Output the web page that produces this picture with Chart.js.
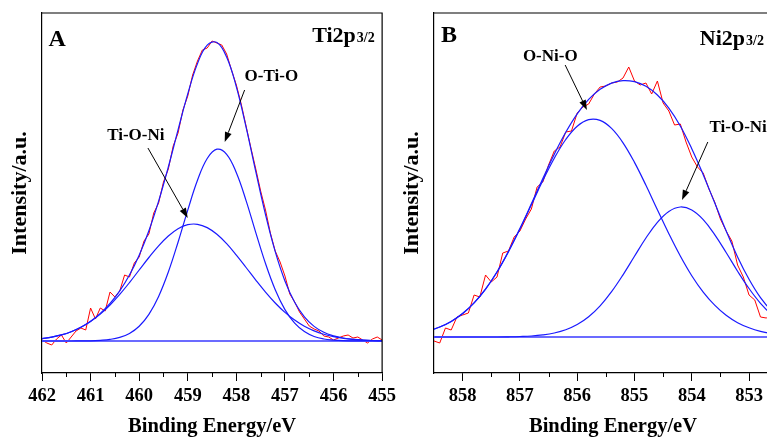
<!DOCTYPE html>
<html>
<head>
<meta charset="utf-8">
<title>XPS Ti2p / Ni2p</title>
<script src="https://cdn.jsdelivr.net/npm/chart.js@4.4.1/dist/chart.umd.min.js"></script>
<style>
    html, body { margin: 0; padding: 0; background: #fff; overflow: hidden; }
    #wrap { position: relative; width: 767px; height: 439px; overflow: hidden; }
    #panelA { position: absolute; left: 0; top: 0; }
    #panelB { position: absolute; left: 392px; top: 0; }
</style>
</head>
<body>
<div id="wrap">
    <canvas id="panelA" width="400" height="439"></canvas>
    <canvas id="panelB" width="417" height="439"></canvas>
</div>
<script>
'use strict';

// ---------- Panel A : Ti2p3/2 ----------
var energyA = [462.0, 461.9, 461.8, 461.7, 461.6, 461.5, 461.4, 461.3, 461.2, 461.1,
               461.0, 460.9, 460.8, 460.7, 460.6, 460.5, 460.4, 460.3, 460.2, 460.1,
               460.0, 459.9, 459.8, 459.7, 459.6, 459.5, 459.4, 459.3, 459.2, 459.1,
               459.0, 458.9, 458.8, 458.7, 458.6, 458.5, 458.4, 458.3, 458.2, 458.1,
               458.0, 457.9, 457.8, 457.7, 457.6, 457.5, 457.4, 457.3, 457.2, 457.1,
               457.0, 456.9, 456.8, 456.7, 456.6, 456.5, 456.4, 456.3, 456.2, 456.1,
               456.0, 455.9, 455.8, 455.7, 455.6, 455.5, 455.4, 455.3, 455.2, 455.1,
               455.0];
var rawA = [1, -2, -4, 2, 6, -2, 4, 10, 13, 11,
            33, 22, 33, 30, 49, 44, 50, 66, 64, 78,
            84, 100, 107, 128, 138, 159, 172, 195, 208, 231,
            245, 266, 280, 291, 293, 300, 298, 296, 287, 271,
            256, 237, 215, 193, 172, 150, 131, 108, 90, 79,
            65, 47, 39, 29, 22, 15, 12, 10, 5, 4,
            1, 3, 5, 6, 3, 4, 1, -2, 2, 4,
            1];

var fitEnergyA = [462.0, 461.8, 461.6, 461.4, 461.2, 461.0, 460.8, 460.6, 460.4, 460.2,
                  460.0, 459.8, 459.6, 459.4, 459.2, 459.0, 458.8, 458.6, 458.4, 458.2,
                  458.0, 457.8, 457.6, 457.4, 457.2, 457.0, 456.8, 456.6, 456.4, 456.2,
                  456.0, 455.8, 455.6, 455.4, 455.2, 455.0];
var envelopeA = [2.4, 3.9, 6.1, 9.3, 13.8, 19.7, 27.6, 37.6, 50.2, 66.0,
                 85.8, 110.2, 139.8, 174.0, 211.1, 247.2, 277.4, 295.9, 298.5, 284.0,
                 254.1, 213.9, 169.3, 126.4, 89.3, 60.0, 38.7, 24.1, 14.6, 8.7,
                 5.2, 3.0, 1.7, 1.0, 0.5, 0.3];
var oTiOA = [0, 0, 0, 0, 0.1, 0.2, 0.7, 1.6, 3.6, 7.6,
             14.8, 26.7, 44.6, 69.0, 98.8, 130.9, 160.7, 182.5, 191.8, 186.7,
             168.2, 140.4, 108.4, 77.5, 51.3, 31.4, 17.8, 9.4, 4.5, 2.0,
             0.9, 0.3, 0.1, 0, 0, 0];
var tiONiA = [2.4, 3.9, 6.1, 9.3, 13.7, 19.5, 26.9, 36.0, 46.6, 58.4,
              71.0, 83.5, 95.2, 105.0, 112.3, 116.3, 116.7, 113.4, 106.7, 97.3,
              85.9, 73.5, 60.9, 48.9, 38.0, 28.6, 20.9, 14.7, 10.1, 6.7,
              4.3, 2.7, 1.6, 0.9, 0.5, 0.3];
var baseEnergyA = [462, 455];
var baselineA = [0, 0];
var majorTicksA = [462, 461, 460, 459, 458, 457, 456, 455];
var minorTicksA = [461.5, 460.5, 459.5, 458.5, 457.5, 456.5, 455.5];

// ---------- Panel B : Ni2p3/2 ----------
var energyB = [858.6, 858.5, 858.4, 858.3, 858.2, 858.1, 858.0, 857.9, 857.8, 857.7,
               857.6, 857.5, 857.4, 857.3, 857.2, 857.1, 857.0, 856.9, 856.8, 856.7,
               856.6, 856.5, 856.4, 856.3, 856.2, 856.1, 856.0, 855.9, 855.8, 855.7,
               855.6, 855.5, 855.4, 855.3, 855.2, 855.1, 855.0, 854.9, 854.8, 854.7,
               854.6, 854.5, 854.4, 854.3, 854.2, 854.1, 854.0, 853.9, 853.8, 853.7,
               853.6, 853.5, 853.4, 853.3, 853.2, 853.1, 853.0, 852.9, 852.8, 852.7,
               852.6];
var rawB = [2, -4, -6, 9, 7, 20, 22, 24, 42, 40,
            62, 55, 60, 84, 86, 100, 106, 118, 128, 150,
            155, 172, 186, 190, 205, 206, 224, 230, 233, 243,
            250, 251, 254, 255, 259, 270, 256, 252, 254, 243,
            256, 234, 226, 212, 213, 195, 180, 170, 164, 148,
            135, 118, 106, 96, 72, 60, 42, 37, 20, 19,
            22];

var fitEnergyB = [858.6, 858.4, 858.2, 858.0, 857.8, 857.6, 857.4, 857.2, 857.0, 856.8,
                  856.6, 856.4, 856.2, 856.0, 855.8, 855.6, 855.4, 855.2, 855.0, 854.8,
                  854.6, 854.4, 854.2, 854.0, 853.8, 853.6, 853.4, 853.2, 853.0, 852.8,
                  852.6, 852.4, 852.2];
var envelopeB = [6.2, 10.0, 15.6, 23.5, 34.1, 47.9, 65.0, 85.5, 108.5, 133.2,
                 158.5, 182.8, 204.7, 223.2, 237.6, 247.7, 253.9, 256.4, 255.3, 250.7,
                 242.0, 228.9, 211.0, 188.3, 162.3, 134.2, 106.2, 80.1, 57.7, 39.3,
                 25.6, 15.7, 9.2];
var oNiOB = [6.2, 10.0, 15.6, 23.5, 34.1, 47.9, 65.0, 85.3, 108.0, 132.2,
             156.4, 178.8, 197.5, 210.8, 217.4, 216.6, 208.6, 194.2, 174.6, 151.7,
             127.3, 103.3, 81.0, 61.3, 44.9, 31.8, 21.7, 14.3, 9.2, 5.6,
             3.4, 1.9, 1.1];
var tiONiB = [0, 0, 0, 0, 0, 0, 0, 0.2, 0.5, 1.0,
              2.1, 4.0, 7.2, 12.4, 20.2, 31.1, 45.3, 62.2, 80.7, 99.0,
              114.7, 125.6, 130.0, 127.0, 117.4, 102.4, 84.5, 65.8, 48.5, 33.7,
              22.2, 13.8, 8.1];
var baseEnergyB = [858.6, 852.2];
var baselineB = [0, 0];
var majorTicksB = [858, 857, 856, 855, 854, 853];
var minorTicksB = [857.5, 856.5, 855.5, 854.5, 853.5, 852.5];

var SERIF = "'Liberation Serif', 'Times New Roman', serif";
var RED = '#ff0000';
var FIT_BLUE = '#1a1aff';
var BASE_BLUE = '#6b6bff';

/**
 * Zip two arrays into {x, y} points.
 */
function points(xs, ys) {
    return xs.map(function (x, i) {
        return { x: x, y: ys[i] };
    });
}

function series(xs, ys, color, width, tension) {
    return {
        data: points(xs, ys),
        borderColor: color,
        borderWidth: width,
        pointRadius: 0,
        tension: tension,
        fill: false
    };
}

/**
 * Draw a thin line with a filled arrow head at (x2, y2).
 */
function drawArrow(ctx, x1, y1, x2, y2) {
    var ang = Math.atan2(y2 - y1, x2 - x1);
    var len = 10, half = 3.5;
    var bx = x2 - len * Math.cos(ang), by = y2 - len * Math.sin(ang);
    ctx.beginPath();
    ctx.moveTo(x1, y1);
    ctx.lineTo(bx, by);
    ctx.stroke();
    ctx.beginPath();
    ctx.moveTo(x2, y2);
    ctx.lineTo(bx + half * Math.sin(ang), by - half * Math.cos(ang));
    ctx.lineTo(bx - half * Math.sin(ang), by + half * Math.cos(ang));
    ctx.closePath();
    ctx.fill();
}

// Frame, minor ticks, peak labels, arrows and panel captions.
var panelDecor = {
    id: 'panelDecor',
    afterDraw: function (chart, args, opts) {
        var ctx = chart.ctx;
        var area = chart.chartArea;
        var xs = chart.scales.x, ys = chart.scales.y;
        var px = function (v) { return xs.getPixelForValue(v); };
        var py = function (v) { return ys.getPixelForValue(v); };

        ctx.save();
        ctx.strokeStyle = '#000';
        ctx.fillStyle = '#000';
        ctx.lineWidth = 1.2;
        ctx.beginPath();
        ctx.moveTo(area.left, area.top);
        ctx.lineTo(area.right, area.top);
        ctx.lineTo(area.right, area.bottom);
        ctx.stroke();

        ctx.lineWidth = 1;
        ctx.beginPath();
        opts.minorTicks.forEach(function (v) {
            var x = Math.round(px(v)) + 0.5;
            ctx.moveTo(x, area.bottom);
            ctx.lineTo(x, area.bottom + 4);
        });
        ctx.stroke();

        opts.arrows.forEach(function (a) {
            drawArrow(ctx, px(a.from[0]), py(a.from[1]), px(a.to[0]), py(a.to[1]));
        });

        ctx.textAlign = 'center';
        ctx.textBaseline = 'middle';
        opts.labels.forEach(function (l) {
            ctx.font = 'bold ' + l.size + 'px ' + SERIF;
            ctx.fillText(l.text, px(l.at[0]), py(l.at[1]));
        });

        // caption like "Ti2p" followed by a smaller "3/2"
        var c = opts.caption;
        var cx = px(c.at[0]), cy = py(c.at[1]);
        ctx.textAlign = 'left';
        ctx.textBaseline = 'alphabetic';
        ctx.font = 'bold 22px ' + SERIF;
        ctx.fillText(c.main, cx, cy);
        var w = ctx.measureText(c.main).width;
        ctx.font = 'bold 14px ' + SERIF;
        ctx.fillText(c.sub, cx + w + 1, cy);
        ctx.restore();
    }
};

function buildPanel(canvasId, p) {
    var ctx = document.getElementById(canvasId).getContext('2d');
    return new Chart(ctx, {
        type: 'line',
        data: {
            datasets: [
                series(p.fitEnergy, p.envelope, FIT_BLUE, 1.2, 0.4),
                series(p.fitEnergy, p.peak1, FIT_BLUE, 1.2, 0.4),
                series(p.fitEnergy, p.peak2, FIT_BLUE, 1.2, 0.4),
                series(p.baseEnergy, p.baseline, BASE_BLUE, 2, 0),
                series(p.energy, p.raw, RED, 1, 0)
            ]
        },
        options: {
            responsive: false,
            animation: false,
            devicePixelRatio: 1,
            layout: { padding: { left: 0, top: 13, right: p.padRight, bottom: 0 } },
            plugins: {
                legend: { display: false },
                tooltip: { enabled: false },
                panelDecor: p.decor
            },
            scales: {
                x: {
                    type: 'linear',
                    reverse: true,
                    min: p.xMin,
                    max: p.xMax,
                    afterBuildTicks: function (scale) {
                        scale.ticks = p.majorTicks.map(function (v) { return { value: v }; });
                    },
                    afterFit: function (scale) { scale.height = 66; },
                    ticks: {
                        color: '#000',
                        padding: 4,
                        maxRotation: 0,
                        autoSkip: false,
                        font: { family: SERIF, size: 18.5, weight: 'bold' }
                    },
                    grid: { drawOnChartArea: false, tickLength: 8, color: '#000', lineWidth: 1 },
                    border: { color: '#000', width: 1.2 },
                    title: {
                        display: true,
                        text: 'Binding Energy/eV',
                        color: '#000',
                        padding: { top: 0, bottom: 0 },
                        font: { family: SERIF, size: 20.5, weight: 'bold' }
                    }
                },
                y: {
                    min: p.yMin,
                    max: p.yMax,
                    afterFit: function (scale) { scale.width = 42; },
                    ticks: { display: false },
                    grid: { display: false },
                    border: { color: '#000', width: 1.2 },
                    title: {
                        display: true,
                        text: 'Intensity/a.u.',
                        color: '#000',
                        padding: { top: 7, bottom: 0 },
                        font: { family: SERIF, size: 22, weight: 'bold' }
                    }
                }
            }
        },
        plugins: [panelDecor]
    });
}

buildPanel('panelA', {
    energy: energyA, raw: rawA,
    fitEnergy: fitEnergyA, envelope: envelopeA, peak1: oTiOA, peak2: tiONiA,
    baseEnergy: baseEnergyA, baseline: baselineA,
    majorTicks: majorTicksA,
    xMin: 455, xMax: 462, yMin: -32, yMax: 328,
    padRight: 17,
    decor: {
        minorTicks: minorTicksA,
        labels: [
            { text: 'A', at: [461.69, 301], size: 24 },
            { text: 'O-Ti-O', at: [457.28, 264], size: 17 },
            { text: 'Ti-O-Ni', at: [460.07, 205], size: 17 }
        ],
        arrows: [
            { from: [457.83, 251], to: [458.24, 199] },
            { from: [459.82, 193], to: [459.00, 123] }
        ],
        caption: { main: 'Ti2p', sub: '3/2', at: [456.44, 299] }
    }
});

buildPanel('panelB', {
    energy: energyB, raw: rawB,
    fitEnergy: fitEnergyB, envelope: envelopeB, peak1: oNiOB, peak2: tiONiB,
    baseEnergy: baseEnergyB, baseline: baselineB,
    majorTicks: majorTicksB,
    xMin: 852.25, xMax: 858.5, yMin: -36, yMax: 324,
    padRight: 17,
    decor: {
        minorTicks: minorTicksB,
        labels: [
            { text: 'B', at: [858.24, 301], size: 24 },
            { text: 'O-Ni-O', at: [856.47, 280], size: 17 },
            { text: 'Ti-O-Ni', at: [853.19, 209], size: 17 }
        ],
        arrows: [
            { from: [856.21, 272], to: [855.83, 227] },
            { from: [853.72, 195], to: [854.17, 137] }
        ],
        caption: { main: 'Ni2p', sub: '3/2', at: [853.86, 292] }
    }
});
</script>
</body>
</html>
